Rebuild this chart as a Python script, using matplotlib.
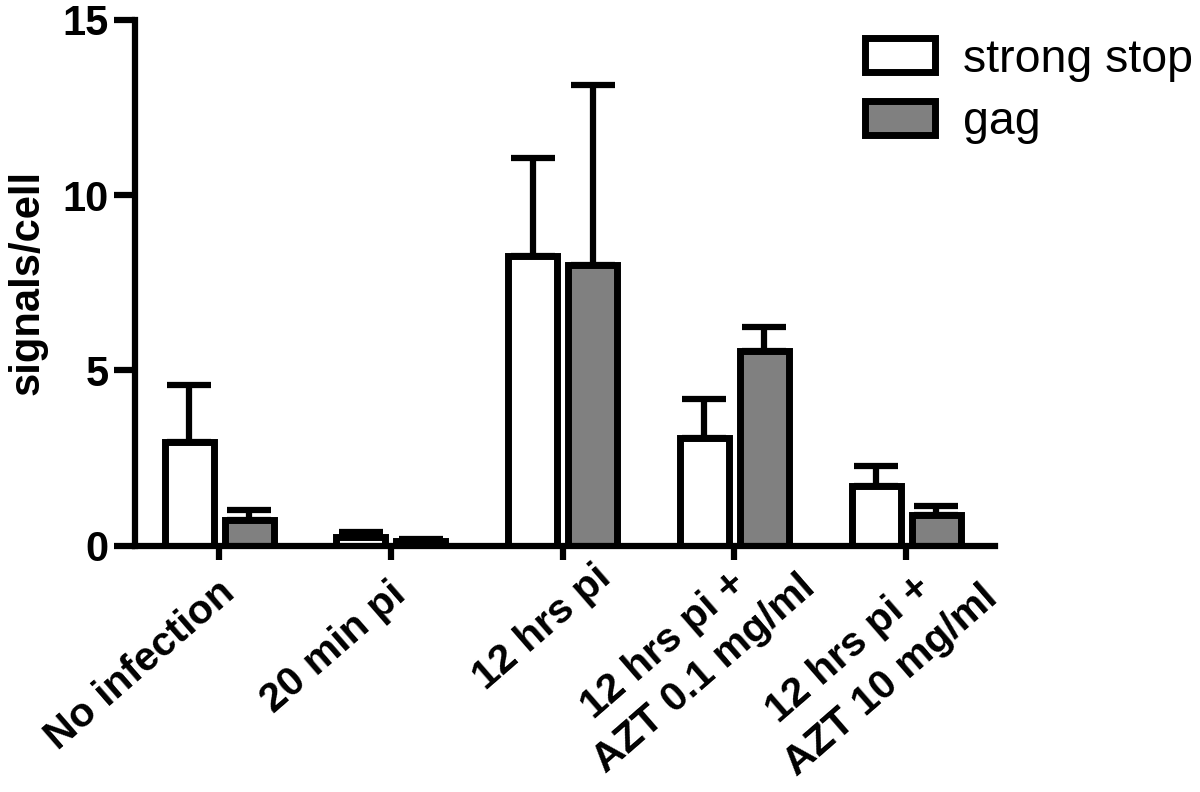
import matplotlib.pyplot as plt
import numpy as np

plt.rcParams['font.family'] = ['Liberation Sans', 'DejaVu Sans']

groups = ["No infection", "20 min pi", "12 hrs pi",
          "12 hrs pi +\nAZT 0.1 mg/ml", "12 hrs pi +\nAZT 10 mg/ml"]
strong_stop = [2.95, 0.25, 8.27, 3.08, 1.7]
strong_stop_err = [1.62, 0.13, 2.8, 1.1, 0.57]
gag = [0.74, 0.12, 8.02, 5.55, 0.87]
gag_err = [0.27, 0.08, 5.12, 0.68, 0.27]

# right / top pixel (from top-left) of each x-label line's box, one entry per line
label_corner = [[(242, 573)], [(413, 575)], [(618, 558)],
                [(753, 564), (822, 568)], [(938, 568), (1005, 578)]]

x = np.arange(len(groups))
w = 0.285
off = 0.175

fig = plt.figure(figsize=(12, 7.92), dpi=100)
ax = fig.add_axes([0.1125, 0.311, 0.717, 0.664])

ekw = dict(elinewidth=4.5, capsize=16, capthick=4.5, ecolor='black')
ax.bar(x - off, strong_stop, w, color='white', edgecolor='black', linewidth=5,
       label='strong stop', zorder=2)
ax.errorbar(x - off, strong_stop, yerr=[np.zeros(5), strong_stop_err], fmt='none', zorder=1, **ekw)
ax.bar(x + off, gag, w, color='#808080', edgecolor='black', linewidth=5,
       label='gag', zorder=2)
ax.errorbar(x + off, gag, yerr=[np.zeros(5), gag_err], fmt='none', zorder=1, **ekw)

ax.set_xlim(-0.49, 4.52)
ax.set_ylim(0, 15)
ax.set_yticks([0, 5, 10, 15])
ax.set_xticks(x)
ax.set_xticklabels([])
ax.tick_params(axis='y', labelsize=30, width=4.5, length=15, pad=4)
ax.tick_params(axis='x', width=4.5, length=10)
for lab in ax.get_yticklabels():
    lab.set_fontweight('bold')

for s in ['top', 'right']:
    ax.spines[s].set_visible(False)
for s in ['left', 'bottom']:
    ax.spines[s].set_linewidth(4.5)

ax.set_ylabel('signals/cell', fontsize=30, fontweight='bold', labelpad=11)

# rotated x labels, one text per line, shifted so each box corner lands where the reference has it
texts = []
for xi, g, corners in zip(x, groups, label_corner):
    for ln, c in zip(g.split('\n'), corners):
        t = ax.annotate(ln, xy=(xi, 0), xycoords=('data', 'axes fraction'),
                        xytext=(0, 0), textcoords='offset pixels',
                        rotation=41, ha='right', va='top', rotation_mode='anchor',
                        fontsize=29.5, fontweight='bold', annotation_clip=False)
        texts.append((t, c))

fig.canvas.draw()
r = fig.canvas.get_renderer()
H = fig.bbox.height
for t, (cx, cy) in texts:
    bb = t.get_window_extent(r)
    t.xyann = (cx - bb.x1, (H - cy) - bb.y1)

leg = ax.legend(loc='upper left', bbox_to_anchor=(0.849, 0.966), frameon=False, fontsize=33.5,
                handlelength=1.5, handleheight=0.75, handletextpad=0.6, labelspacing=0.4,
                borderpad=0, borderaxespad=0)

fig.savefig('out.png', dpi=100)
